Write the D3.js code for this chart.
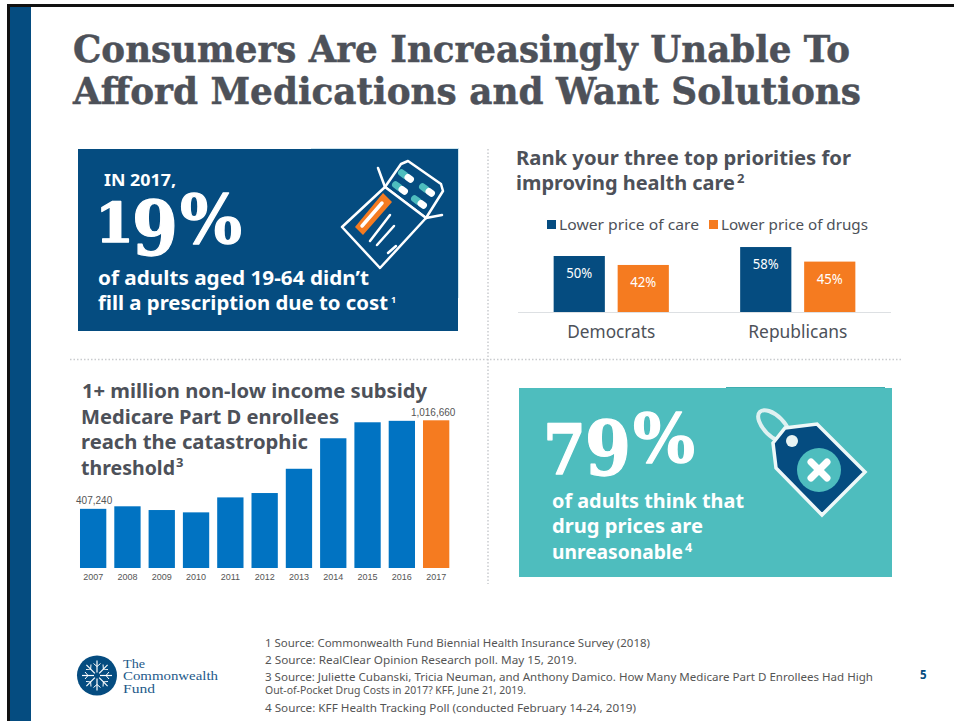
<!DOCTYPE html>
<html>
<head>
<meta charset="utf-8">
<script src="https://cdn.jsdelivr.net/npm/d3@7"></script>
<style>
html,body{margin:0;padding:0;background:#fff;}
svg{display:block;}
text{font-family:"Noto Sans",sans-serif;}
.serif{font-family:"DejaVu Serif",serif;font-weight:700;}
</style>
</head>
<body>
<div id="slide"></div>
<script>
// Priority survey
const parties = ["Democrats", "Republicans"];
const priorities = ["Lower price of care", "Lower price of drugs"];
const careShare = [50, 58];
const drugShare = [42, 45];

// Enrollees past the catastrophic threshold
const years = ["2007","2008","2009","2010","2011","2012","2013","2014","2015","2016","2017"];
const enrollees = [407240,424700,399000,383000,486000,516000,683000,893000,1003000,1013000,1016660];
const labelledYears = ["2007","2017"];

const titleLines = ["Consumers Are Increasingly Unable To","Afford Medications and Want Solutions"];
const sourceNotes = [
  "1 Source: Commonwealth Fund Biennial Health Insurance Survey (2018)",
  "2 Source: RealClear Opinion Research poll.  May 15, 2019.",
  "3 Source: Juliette Cubanski, Tricia Neuman, and Anthony Damico.  How Many Medicare Part D Enrollees Had High",
  "Out-of-Pocket Drug Costs in 2017? KFF, June 21, 2019.",
  "4 Source: KFF Health Tracking Poll (conducted February 14-24, 2019)"
];

const NAVY="#054C80", ORANGE="#F57B20", TEAL="#4EBDBE", INK="#4D5159", BLUE="#0173C2";

const svg=d3.select("#slide").append("svg").attr("width",954).attr("height",721);

// Adds a text run and squeezes it to the wanted width
function put(g,str,x,y,size,fill,opts={}){
  const t=g.append("text").attr("x",x).attr("y",y).attr("font-size",size).attr("fill",fill).text(str);
  if(opts.bold) t.attr("font-weight",700);
  if(opts.cls) t.attr("class",opts.cls);
  if(opts.anchor) t.attr("text-anchor",opts.anchor);
  if(opts.family) t.style("font-family",opts.family);
  if(opts.width) t.attr("textLength",opts.width).attr("lengthAdjust","spacingAndGlyphs");
  return t;
}

// Large old-style figures: every glyph gets its own size, position and width
function bigFigure(parts){
  const t=svg.append("text").attr("class","serif").attr("fill","#fff")
    .attr("stroke","#fff").attr("stroke-width",1.3).attr("stroke-linejoin","round");
  parts.forEach(p=>t.append("tspan").attr("x",p.x).attr("y",p.y).attr("font-size",p.size)
    .attr("textLength",p.w).attr("lengthAdjust","spacingAndGlyphs").text(p.s));
  return t;
}

// Straight white strokes in page space
const stroke=(g,pts,color,w)=>g.append("path").attr("d",d3.line()(pts)).attr("fill","none")
  .attr("stroke",color).attr("stroke-width",w).attr("stroke-linejoin","round").attr("stroke-linecap","round");

// Slide frame
svg.append("rect").attr("x",7).attr("y",4).attr("width",947).attr("height",3).attr("fill","#111");
svg.append("rect").attr("x",7).attr("y",4).attr("width",3).attr("height",717).attr("fill","#111");
svg.append("rect").attr("x",10).attr("y",7).attr("width",21).attr("height",714).attr("fill",NAVY);

// Title
const titleWidths=[777,788];
titleLines.forEach((l,i)=>put(svg,l,73,62+i*41.5,37,INK,{cls:"serif",width:titleWidths[i]})
  .attr("stroke",INK).attr("stroke-width",0.5));

// Panel dividers
[[488,149,488,584],[70,359.5,903,359.5]].forEach(d=>svg.append("line")
  .attr("x1",d[0]).attr("y1",d[1]).attr("x2",d[2]).attr("y2",d[3])
  .attr("stroke","#C9CBCE").attr("stroke-width",1.5).attr("stroke-dasharray","1.5 2"));

// Top-left callout
svg.append("rect").attr("x",78).attr("y",149).attr("width",380).attr("height",182).attr("fill",NAVY);
svg.append("rect").attr("x",311).attr("y",148).attr("width",148).attr("height",1).attr("fill","#CFE6EF");
svg.append("rect").attr("x",458).attr("y",148).attr("width",1).attr("height",150).attr("fill","#CFE6EF");
put(svg,"IN 2017,",104,186,16,"#fff",{bold:true,width:72});
bigFigure([
  {s:"1",x:95,y:242,size:55,w:39},
  {s:"9",x:132,y:255,size:74,w:46},
  {s:"%",x:180,y:243,size:68,w:62}
]);
put(svg,"of adults aged 19-64 didn’t",98,285,20,"#fff",{bold:true,width:271});
put(svg,"fill a prescription due to cost",98,310,20,"#fff",{bold:true,width:290});
put(svg,"1",391,303,9,"#fff",{bold:true});

// Prescription pad icon
const rx=svg.append("g");
stroke(rx,[[378,168],[385,187]],"#fff",2.5);
stroke(rx,[[426,218],[442,215]],"#fff",2.5);
rx.append("path").attr("d",d3.line().curve(d3.curveLinearClosed)([[385,187],[401,164],[408,161],[441,184],[443,191],[426,218]]))
  .attr("fill",NAVY).attr("stroke","#fff").attr("stroke-width",2.5).attr("stroke-linejoin","round");
rx.append("path").attr("d",d3.line().curve(d3.curveLinearClosed)([[385,187],[426,218],[380,268],[342,227]]))
  .attr("fill",NAVY).attr("stroke","#fff").attr("stroke-width",2.5).attr("stroke-linejoin","round");
rx.append("path").attr("d",d3.line().curve(d3.curveLinearClosed)([[355,227],[383,193],[392,202],[363,235]])).attr("fill",ORANGE);
stroke(rx,[[362,226],[382,203]],"#fff",3.5);
stroke(rx,[[370,241],[390,215]],"#fff",2.5);
stroke(rx,[[377,245],[394,226]],"#fff",2.5);
stroke(rx,[[388,253],[396,246]],"#fff",2.5);
// Capsules in the blister pack
[[406,176],[427,190],[400,188],[419,202]].forEach(c=>{
  const g=rx.append("g").attr("transform",`translate(${c[0]},${c[1]}) rotate(36)`);
  g.append("rect").attr("x",-9).attr("y",-3.5).attr("width",11).attr("height",7).attr("rx",3.5).attr("fill",TEAL);
  g.append("rect").attr("x",-1).attr("y",-3.5).attr("width",10).attr("height",7).attr("rx",3.5).attr("fill","#fff");
});

// Priorities panel
put(svg,"Rank your three top priorities for",516,165,20,INK,{bold:true,width:335});
put(svg,"improving health care",516,190,20,INK,{bold:true,width:219});
put(svg,"2",737,183,13,INK,{bold:true});

const legendX=[547,709];
priorities.forEach((p,i)=>{
  svg.append("rect").attr("x",legendX[i]).attr("y",220).attr("width",9).attr("height",9).attr("fill",i?ORANGE:NAVY);
  put(svg,p,legendX[i]+12,230,15,INK,{width:i?147:140});
});

const groupX=d3.scaleBand().domain(parties).range([518,891]);
const seriesX=d3.scaleBand().domain(priorities).range([-57.6,57.6]).paddingInner(0.2);
const shareY=d3.scaleLinear().domain([0,100]).range([312,200]);

const groups=svg.selectAll("g.party").data(parties).join("g").attr("class","party")
  .attr("transform",p=>`translate(${groupX(p)+groupX.bandwidth()/2},0)`);
groups.each(function(p,i){
  const g=d3.select(this);
  [careShare[i],drugShare[i]].forEach((v,j)=>{
    g.append("rect").attr("x",seriesX(priorities[j])).attr("y",shareY(v))
      .attr("width",seriesX.bandwidth()).attr("height",shareY(0)-shareY(v)).attr("fill",j?ORANGE:NAVY);
    g.append("text").attr("x",seriesX(priorities[j])+seriesX.bandwidth()/2).attr("y",shareY(v)+22)
      .attr("text-anchor","middle").attr("font-size",15).attr("fill","#fff")
      .attr("textLength",26).attr("lengthAdjust","spacingAndGlyphs").text(v+"%");
  });
  g.append("text").attr("y",337.5).attr("text-anchor","middle").attr("font-size",17.5).attr("fill",INK)
    .attr("textLength",i?99:88).attr("lengthAdjust","spacingAndGlyphs").text(p);
});
svg.append("line").attr("x1",518).attr("x2",891).attr("y1",312.5).attr("y2",312.5).attr("stroke","#DDE0E3").attr("stroke-width",1);

// Enrollee panel
put(svg,"1+ million non-low income subsidy",82,398,20,INK,{bold:true,width:345});
put(svg,"Medicare Part D enrollees",81,424,20,INK,{bold:true,width:258});
put(svg,"reach the catastrophic",81,449,20,INK,{bold:true,width:227});
put(svg,"threshold",81,475,20,INK,{bold:true,width:94});
put(svg,"3",176,467,13,INK,{bold:true});

const yearX=d3.scaleBand().domain(years).range([76,453.3]).paddingInner(0.233).paddingOuter(0.1165);
const countY=d3.scaleLinear().domain([0,1016660]).range([568,420.3]);
svg.selectAll("rect.year").data(years).join("rect").attr("class","year")
  .attr("x",d=>yearX(d)).attr("width",yearX.bandwidth())
  .attr("y",(d,i)=>countY(enrollees[i])).attr("height",(d,i)=>countY(0)-countY(enrollees[i]))
  .attr("fill",(d,i)=>i===years.length-1?ORANGE:BLUE);
svg.selectAll("text.year").data(years).join("text").attr("class","year")
  .attr("x",d=>yearX(d)+yearX.bandwidth()/2).attr("y",580).attr("text-anchor","middle")
  .attr("font-size",9).attr("fill","#555").style("font-family","Liberation Sans").text(d=>d);
labelledYears.forEach((y,i)=>{
  const v=enrollees[years.indexOf(y)];
  svg.append("text").attr("x",yearX(y)+yearX.bandwidth()/2+(i?-3:1)).attr("y",countY(v)-4.5).attr("text-anchor","middle")
    .attr("font-size",10).attr("fill","#555").style("font-family","Liberation Sans").text(d3.format(",")(v));
});

// Bottom-right callout
svg.append("rect").attr("x",519).attr("y",388).attr("width",373).attr("height",189).attr("fill",TEAL);
svg.append("rect").attr("x",726).attr("y",387).attr("width",159).attr("height",1).attr("fill","#3FAEB0");
bigFigure([
  {s:"7",x:543,y:474,size:70,w:43},
  {s:"9",x:585,y:475,size:74,w:46},
  {s:"%",x:633,y:462,size:68,w:62}
]);
put(svg,"of adults think that",552,508,20,"#fff",{bold:true,width:192});
put(svg,"drug prices are",552,533,20,"#fff",{bold:true,width:151});
put(svg,"unreasonable",552,559,20,"#fff",{bold:true,width:131});
put(svg,"4",685,552,12.5,"#fff",{bold:true});

// Price tag icon
const tag=svg.append("g");
tag.append("ellipse").attr("cx",774).attr("cy",426).attr("rx",10).attr("ry",20).attr("transform","rotate(-45 774 426)")
  .attr("fill","none").attr("stroke","#DFF1F1").attr("stroke-width",4);
tag.append("path").attr("d",d3.line().curve(d3.curveLinearClosed)([[773,443],[785,428],[817,424],[865,472],[822,515],[776,468]]))
  .attr("fill",NAVY).attr("stroke","#EEF8F8").attr("stroke-width",3.5).attr("stroke-linejoin","miter");
tag.append("circle").attr("cx",819).attr("cy",470).attr("r",22).attr("fill",TEAL);
tag.append("circle").attr("cx",792).attr("cy",441).attr("r",6).attr("fill","#E8F4F4");
stroke(tag,[[811,462],[827,478]],"#fff",7);
stroke(tag,[[827,462],[811,478]],"#fff",7);

// Logo
const logo=svg.append("g").attr("transform","translate(97,675.5)");
logo.append("circle").attr("r",20).attr("fill",NAVY);
d3.range(8).forEach(i=>{
  const spoke=logo.append("g").attr("transform",`rotate(${i*45})`);
  spoke.append("line").attr("y1",-3).attr("y2",-15).attr("stroke","#fff").attr("stroke-width",1.2);
  spoke.append("path").attr("d","M-3.5 -12L0 -9L3.5 -12").attr("fill","none").attr("stroke","#fff").attr("stroke-width",1);
});
["The","Commonwealth","Fund"].forEach((l,i)=>put(svg,l,123,668+i*12.3,12.5,"#1E5A8A",{family:"Liberation Serif",width:[22,95,32][i]}));

// Footnotes
const noteY=[647,664,681,694,712];
const noteW=[385,312,608,261,371];
sourceNotes.forEach((n,i)=>put(svg,n,265,noteY[i],11.5,"#555",{width:noteW[i]}));
put(svg,"5",920,679,11.5,NAVY,{bold:true});
</script>
</body>
</html>
